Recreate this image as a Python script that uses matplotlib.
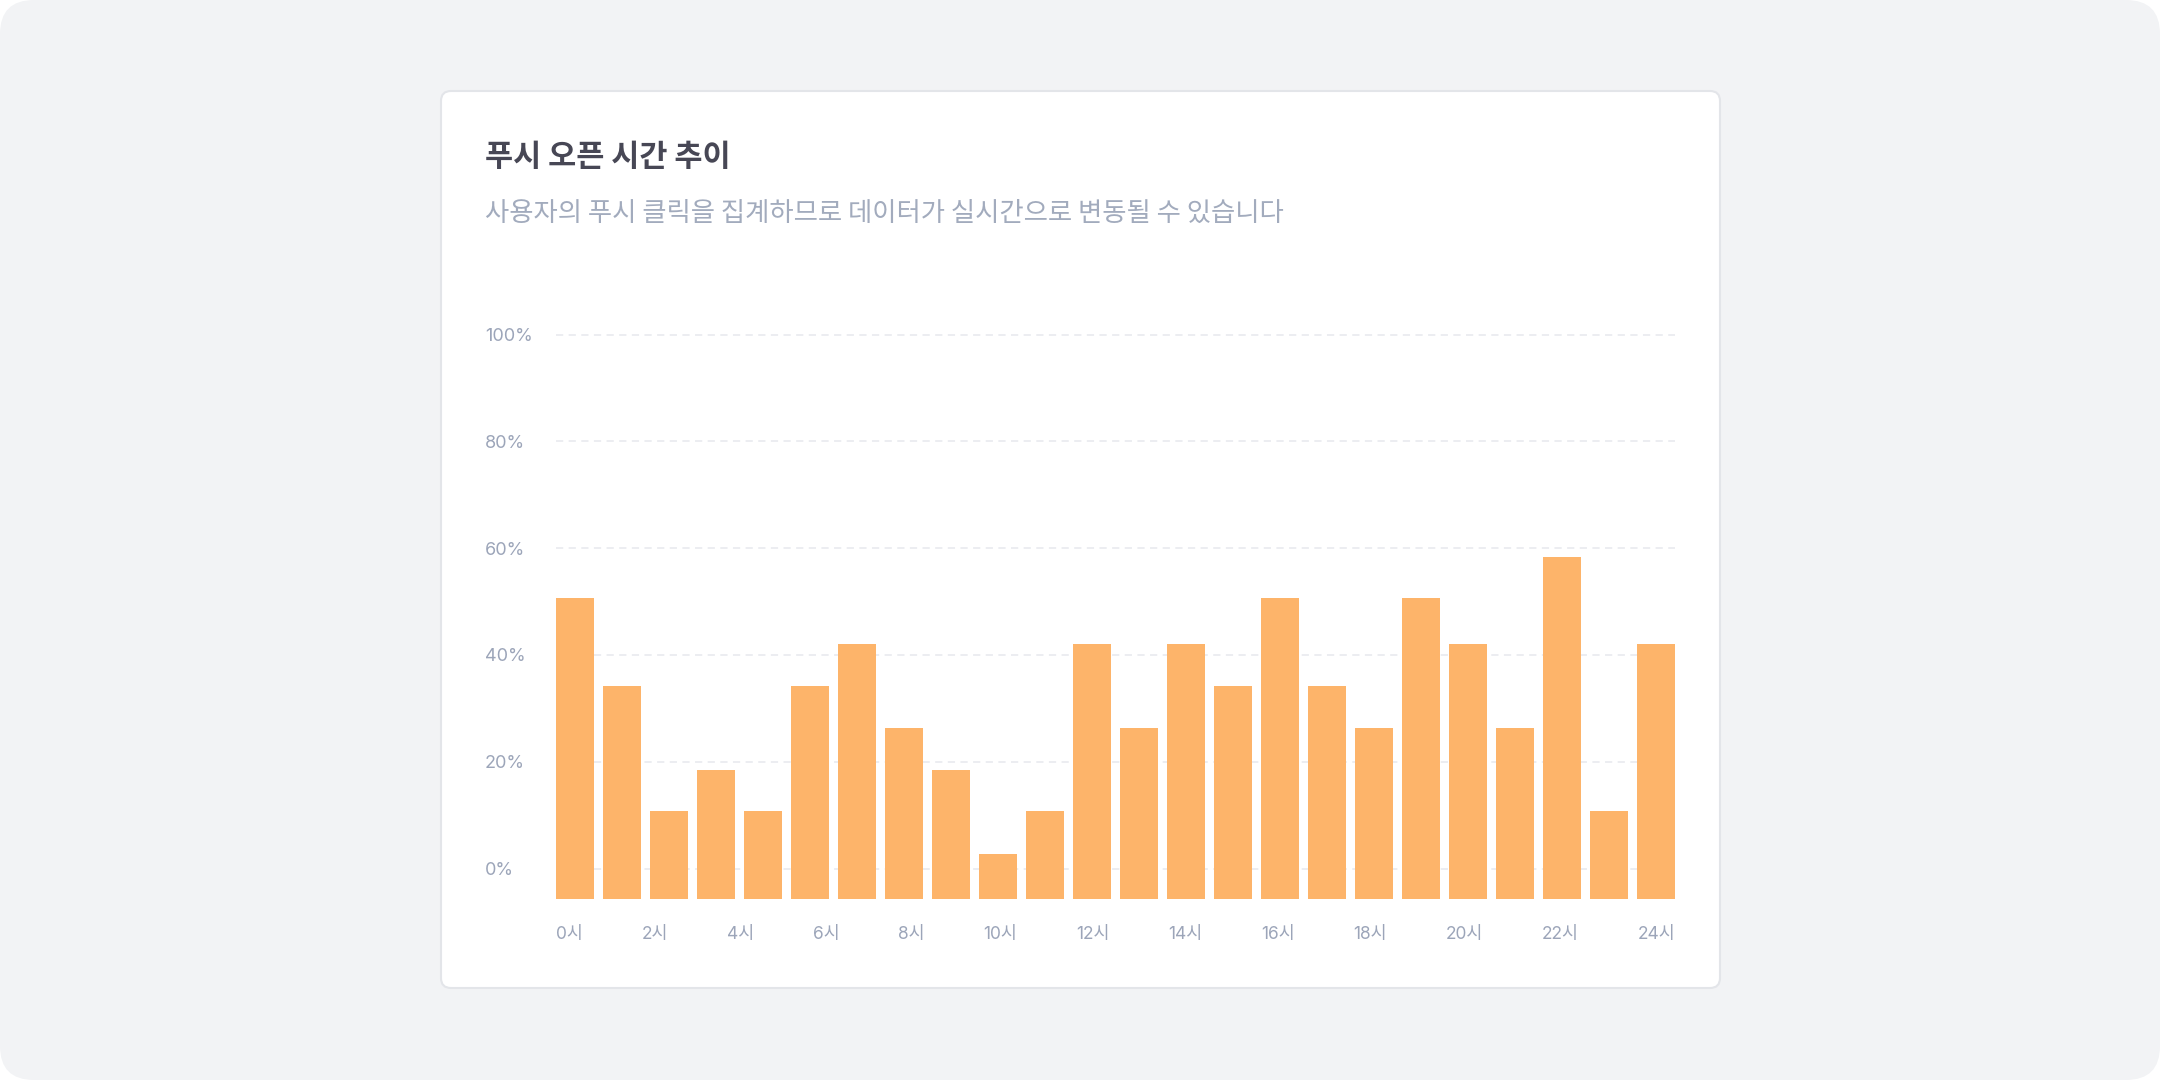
import matplotlib.pyplot as plt
from matplotlib.patches import FancyBboxPatch
from matplotlib.transforms import IdentityTransform, blended_transform_factory

# data
hours = list(range(24))
open_rate = [50.6, 34.1, 10.7, 18.5, 10.7, 34.1, 42.0, 26.3, 18.5, 2.8, 10.7, 42.0,
             26.3, 42.0, 34.1, 50.6, 34.1, 26.3, 50.6, 42.0, 26.3, 58.4, 10.7, 42.0]
x_labels = ['0시', '2시', '4시', '6시', '8시', '10시', '12시',
            '14시', '16시', '18시', '20시', '22시', '24시']
y_ticks = [0, 20, 40, 60, 80, 100]
y_labels = ['0%', '20%', '40%', '60%', '80%', '100%']

title = '푸시 오픈 시간 추이'
subtitle = '사용자의 푸시 클릭을 집계하므로 데이터가 실시간으로 변동될 수 있습니다'

W, H = 2160, 1080
fig = plt.figure(figsize=(W / 100, H / 100), dpi=100)
fig.patch.set_facecolor('white')

# page background and card (pixel coords, origin bottom-left)
bg = FancyBboxPatch((0, 0), W, H, boxstyle='round,pad=0,rounding_size=34',
                    transform=IdentityTransform(), facecolor='#f2f3f5',
                    edgecolor='none', zorder=-10)
fig.patches.append(bg)
card = FancyBboxPatch((441, H - 988), 1279, 897, boxstyle='round,pad=0,rounding_size=10',
                      transform=IdentityTransform(), facecolor='white',
                      edgecolor='#e3e5e9', linewidth=1.5, zorder=-9)
fig.patches.append(card)

cjk = ['Noto Sans CJK KR', 'DejaVu Sans']
lat = ['Inter', 'Noto Sans CJK KR', 'DejaVu Sans']

fig.text(485 / W, 1 - 157 / H, title, family=cjk, fontsize=22, fontweight='bold',
         color='#474755', ha='left', va='center')
fig.text(485 / W, 1 - 213 / H, subtitle, family=cjk, fontsize=19,
         color='#a2abbd', ha='left', va='center')

# axes (top a bit above 100% so the top gridline is not clipped)
bar_w = 0.81
ymin, ymax = -5.7, 101
px_per = 5.34
ax_left, ax_right, ax_bottom = 556, 1675, 899
ax_top = ax_bottom - (ymax - ymin) * px_per
ax = fig.add_axes([ax_left / W, 1 - ax_bottom / H, (ax_right - ax_left) / W,
                   (ax_bottom - ax_top) / H])
ax.set_facecolor('none')
ax.bar(hours, [v - ymin for v in open_rate], bottom=ymin, width=bar_w,
       color='#fdb46a', linewidth=0, zorder=3)
ax.set_xlim(-bar_w / 2, hours[-1] + bar_w / 2)
ax.set_ylim(ymin, ymax)

ax.set_yticks(y_ticks)
ax.set_yticklabels(y_labels, family=lat, fontsize=13, color='#9ca5b9')
for t in ax.get_yticklabels():
    t.set_horizontalalignment('left')
ax.tick_params(axis='y', length=0, pad=(ax_left - 485) * 0.72)
ax.set_xticks([])
ax.grid(axis='y', color='#eaecf0', linewidth=1.3, linestyle=(0, (4, 3)), zorder=0)
ax.set_axisbelow(True)
for s in ax.spines.values():
    s.set_visible(False)

# x labels spread edge to edge (space-between)
tr = blended_transform_factory(ax.transData, ax.transAxes)
y_lab = (ax_bottom - 934) / (ax_bottom - ax_top)
texts = [ax.text(0, y_lab, lab, transform=tr, family=lat, fontsize=12.5,
                 color='#9ca5b9', ha='left', va='center') for lab in x_labels]
fig.canvas.draw()
r = fig.canvas.get_renderer()
widths = [t.get_window_extent(r).width for t in texts]
x0 = ax.transData.transform((-bar_w / 2, 0))[0]
x1 = ax.transData.transform((hours[-1] + bar_w / 2, 0))[0]
gap = (x1 - x0 - sum(widths)) / (len(texts) - 1)
x = x0
for t, w in zip(texts, widths):
    t.set_x(ax.transData.inverted().transform((x, 0))[0])
    x += w + gap

fig.savefig('out.png', dpi=100)
